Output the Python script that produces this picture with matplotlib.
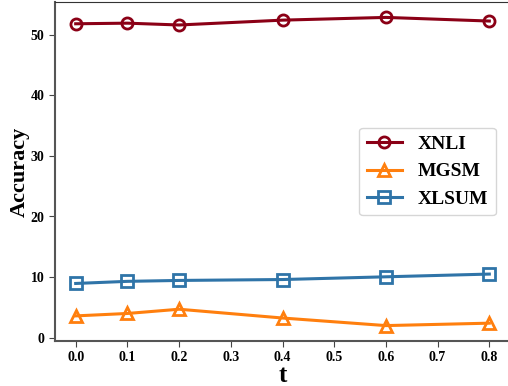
import matplotlib
matplotlib.use("Agg")
import matplotlib.pyplot as plt

plt.rcParams['font.family'] = ['Liberation Serif', 'DejaVu Serif']
plt.rcParams['font.weight'] = 'bold'

# data
t_vals = [0.0, 0.1, 0.2, 0.4, 0.6, 0.8]
xnli = [51.8, 51.9, 51.6, 52.4, 52.85, 52.25]
mgsm = [3.6, 4.0, 4.7, 3.25, 2.0, 2.4]
xlsum = [8.95, 9.3, 9.45, 9.6, 10.05, 10.5]
xticks = [0.0, 0.1, 0.2, 0.3, 0.4, 0.5, 0.6, 0.7, 0.8]
yticks = [0, 10, 20, 30, 40, 50]

fig = plt.figure(figsize=(5.08, 3.86), dpi=100)
ax = fig.add_axes([55 / 508, 45 / 386, 455 / 508, 339 / 386])

style = dict(linewidth=2.2, markersize=8, markeredgewidth=2, markerfacecolor='none')
ax.plot(t_vals, xnli, marker='o', color='#8B0016', label='XNLI', **style)
ax.plot(t_vals, mgsm, marker='^', color='#FF7F0E', label='MGSM', **style)
ax.plot(t_vals, xlsum, marker='s', color='#2F74A8', label='XLSUM', **style)

ax.set_xticks(xticks)
ax.set_xticklabels([f'{v:.1f}' for v in xticks])
ax.set_yticks(yticks)
ax.tick_params(labelsize=10, color='#444444', length=4)
for lab in ax.get_xticklabels() + ax.get_yticklabels():
    lab.set_fontweight('bold')

for side in ['left', 'bottom']:
    ax.spines[side].set_color('#555555')
    ax.spines[side].set_linewidth(1.5)
ax.spines['top'].set_color('#333333')

ax.set_xlabel('t', fontsize=18, fontweight='bold', labelpad=0)
ax.set_ylabel('Accuracy', fontsize=16, fontweight='bold', labelpad=1)

ax.legend(loc='center right', bbox_to_anchor=(0.99, 0.5),
          prop={'weight': 'bold', 'size': 14}, handlelength=1.8, handletextpad=0.8,
          frameon=True, edgecolor='#cccccc', fancybox=True)

fig.savefig('out.png', dpi=100)
